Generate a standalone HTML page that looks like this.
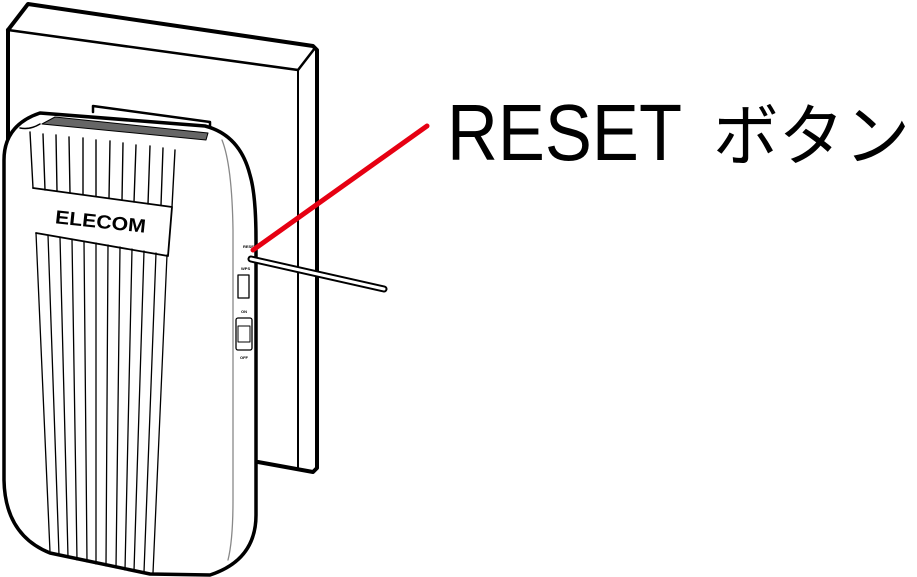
<!DOCTYPE html>
<html><head><meta charset="utf-8"><style>html,body{margin:0;padding:0;background:#fff}svg{display:block}</style></head>
<body>
<svg width="917" height="577" viewBox="0 0 917 577" xmlns="http://www.w3.org/2000/svg">
<g fill="none" stroke="#000" stroke-linejoin="round" stroke-linecap="round">
  <!-- wall plate -->
  <path d="M8,30 L28,4 L313,46 L317,50 L317,468 L313,472 L258,462" stroke-width="4" fill="#fff"/>
  <path d="M8,30 L298,70 L315,48" stroke-width="2.5"/>
  <path d="M298,70 L298,470" stroke-width="2"/>
  <path d="M8,30 L8,150" stroke-width="4"/>
  <!-- top plate -->
  <path d="M93,112 L93,106 L210,122 L210,128" stroke-width="2.5"/>
  <!-- device -->
  <path d="M40,113 L205,126 Q240,135 250,175 Q256,195 256,240 L256,515 Q256,560 210,575 L150,574 L50,553 Q5,535 4,480 L4,160 Q4,125 40,113 Z" stroke-width="3.5" fill="#fff"/>
  <path d="M55,117 L208,133 L206,140 L42,124 Z" stroke-width="1" fill="#666"/>
  <path d="M20,128 Q30,130 40,124" stroke-width="1.5"/>
  <!-- stripes top -->
  <g stroke-width="1.4">
    <path d="M30,132 L33,188"/><path d="M43,134 L45,190"/><path d="M56,135 L57,191"/><path d="M69,137 L70,193"/><path d="M83,138 L83,194"/><path d="M96,140 L96,196"/><path d="M110,141 L109,198"/><path d="M123,143 L122,200"/><path d="M136,145 L134,202"/><path d="M150,146 L148,204"/><path d="M163,148 L161,205"/><path d="M175,150 L172,207"/>
  </g>
  <!-- ELECOM band -->
  <path d="M33,188 L172,207 L168,256 L36,233" stroke-width="1.8"/>
  <!-- stripes bottom -->
  <g stroke-width="1.3">
    <path d="M36,233 L50,552"/><path d="M48,235 L59,555"/><path d="M60,237 L68,557"/><path d="M72,239 L77,560"/><path d="M84,241 L87,562"/><path d="M96,243 L96,564"/><path d="M108,245 L106,566"/><path d="M120,247 L116,568"/><path d="M132,249 L125,570"/><path d="M144,251 L134,571"/><path d="M156,253 L144,572"/><path d="M167,255 L153,573"/>
  </g>
  <path d="M222,140 Q232,165 233,230 L233,500 Q233,540 228,560" stroke-width="1.3" stroke="#888"/>
  <!-- side ports -->
  <rect x="238" y="275" width="11" height="23" stroke-width="1.3"/>
  <rect x="236" y="318" width="16" height="32" rx="2" stroke-width="1.3"/>
  <rect x="238" y="326" width="12" height="16" stroke-width="1"/>
</g>
<text x="55" y="228" font-family="Liberation Sans, sans-serif" font-weight="bold" font-size="19" textLength="91" lengthAdjust="spacingAndGlyphs" transform="rotate(6 100 222)">ELECOM</text>
<g font-family="Liberation Sans, sans-serif" font-size="4" font-weight="bold"><text x="243" y="248">RESET</text><text x="241" y="270">WPS</text><text x="241" y="313">ON</text><text x="240" y="359">OFF</text></g>
<!-- pin -->
<line x1="251" y1="259" x2="384" y2="289" stroke="#000" stroke-width="7" stroke-linecap="round"/>
<line x1="251" y1="259" x2="384" y2="289" stroke="#fff" stroke-width="3" stroke-linecap="round"/>
<!-- red leader -->
<line x1="253" y1="250" x2="427" y2="126" stroke="#e60012" stroke-width="5" stroke-linecap="round"/>
<text x="447" y="160" font-family="Liberation Sans, sans-serif" font-size="80" textLength="235" lengthAdjust="spacingAndGlyphs">RESET</text>
<text x="713" y="160" font-family="Noto Sans CJK JP, sans-serif" font-size="68" textLength="197" lengthAdjust="spacingAndGlyphs">ボタン</text>
</svg>
</body></html>
